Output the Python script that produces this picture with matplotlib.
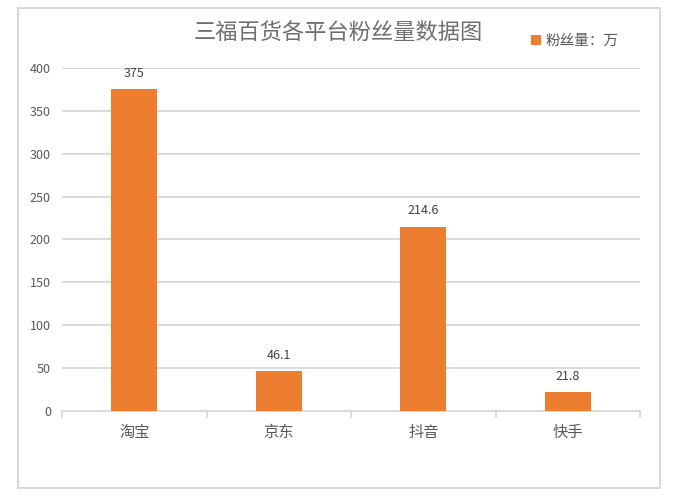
import matplotlib
matplotlib.use('Agg')
import matplotlib.pyplot as plt
from matplotlib.patches import Rectangle

plt.rcParams['font.family'] = ['Noto Sans CJK SC', 'DejaVu Sans']

platforms = ['淘宝', '京东', '抖音', '快手']
fans = [375, 46.1, 214.6, 21.8]
value_labels = ['375', '46.1', '214.6', '21.8']
yticks = [0, 50, 100, 150, 200, 250, 300, 350, 400]

orange = '#ED7D31'
grid_gray = '#D9D9D9'
text_gray = '#595959'

fig = plt.figure(figsize=(6.75, 5), dpi=100)
ax = fig.add_axes([62 / 675, 89 / 500, 578 / 675, 343 / 500])

x = range(len(platforms))
bars = ax.bar(x, fans, width=0.32, color=orange, label='粉丝量：万', zorder=3)

# value labels above the bars
for rect, lab in zip(bars, value_labels):
    ax.annotate(lab, (rect.get_x() + rect.get_width() / 2, rect.get_height()),
                xytext=(0, 7), textcoords='offset points', ha='center', va='bottom',
                fontsize=9, color='#404040')

ax.set_xlim(-0.5, len(platforms) - 0.5)
ax.set_ylim(0, 400)
ax.set_yticks(yticks)
ax.set_xticks(list(x))
ax.set_xticklabels(platforms)
ax.tick_params(axis='y', length=0, labelsize=9, labelcolor=text_gray, pad=8)
ax.tick_params(axis='x', length=0, labelsize=11, labelcolor=text_gray, pad=9)

# category boundary ticks on the x axis
ax.set_xticks([i - 0.5 for i in range(len(platforms) + 1)], minor=True)
ax.tick_params(axis='x', which='minor', length=5, color=grid_gray, width=1.3)

ax.grid(axis='y', color=grid_gray, linewidth=1.3, zorder=0)
for side in ['top', 'right', 'left']:
    ax.spines[side].set_visible(False)
ax.spines['bottom'].set_color(grid_gray)
ax.spines['bottom'].set_linewidth(1.3)

fig.text(338 / 675, 1 - 32 / 500, '三福百货各平台粉丝量数据图', ha='center', va='center',
         fontsize=16, color='#6E6E6E')

ax.legend(loc='center left', bbox_to_anchor=(518 / 675, 1 - 41 / 500),
          bbox_transform=fig.transFigure, frameon=False, fontsize=10.5,
          handlelength=0.7, handleheight=0.7, handletextpad=0.3,
          labelcolor=text_gray)

# outer chart border
fig.patches.append(Rectangle((18 / 675, 12 / 500), 642 / 675, 480 / 500,
                             transform=fig.transFigure, fill=False,
                             edgecolor=grid_gray, linewidth=1.5))

fig.savefig('out.png', dpi=100)
